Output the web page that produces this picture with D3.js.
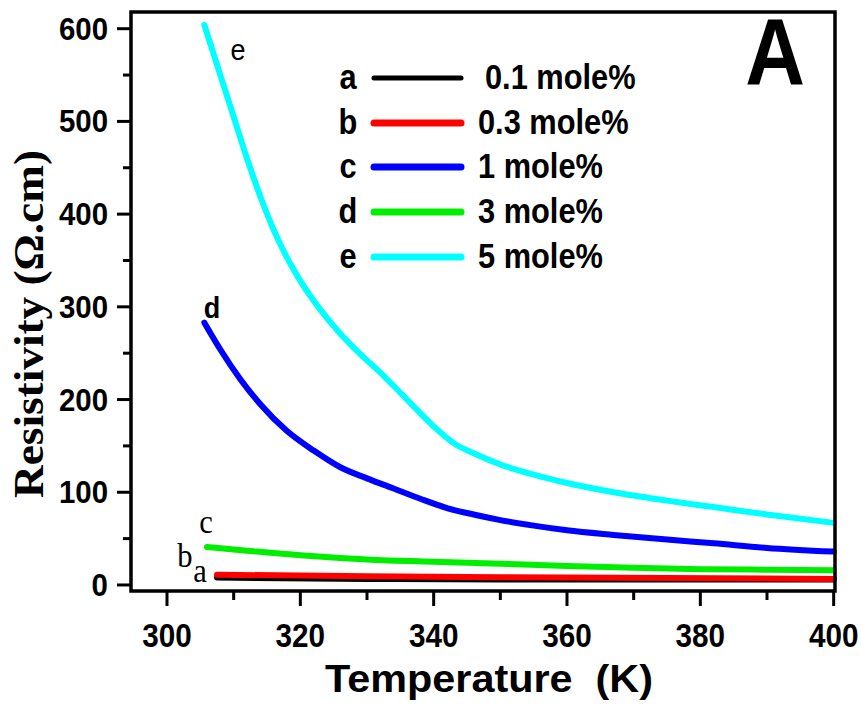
<!DOCTYPE html>
<html><head><meta charset="utf-8">
<script src="https://cdn.jsdelivr.net/npm/d3@7"></script>
<style>body{margin:0;background:#fff}</style>
</head><body>
<svg id="c" width="861" height="711"></svg>
<script>
// ---- data ----
const xTicks = [300, 320, 340, 360, 380, 400];
const yTicks = [0, 100, 200, 300, 400, 500, 600];
const seriesNames = ["a", "b", "c", "d", "e"];
const seriesLabels = ["0.1 mole%", "0.3 mole%", "1 mole%", "3 mole%", "5 mole%"];
const seriesColors = ["#000000", "#ff0000", "#0000ff", "#00ee00", "#00ffff"];
const curveBlack = [[307.5,8],[330,6.5],[350,6],[400,6]];
const curveRed = [[307.5,11],[330,9.5],[360,8],[400,6.5]];
const curveGreen = [[306,41],[312,37],[320,32],[330,27.5],[340,25],[350,23],[360,20.5],[370,18.5],[380,17],[390,16.5],[400,16]];
const curveBlue = [[305.6,283],[308,254],[311,222],[314,195],[318,166],[322,145],[326,127],[330,115],[334,104],[338,93],[342,83],[346,76],[350,70],[355,64],[360,59],[367,54],[375,49],[382,45],[390,40],[400,36]];
const curveCyan = [[305.6,604],[308,550],[310,505],[312,460],[314,419],[316,383],[318,353],[320,328],[323,297],[326,271],[329,249],[332,229],[336,200],[340,171],[343,153],[346,142],[350,130],[355,119],[360,110],[367,100],[375,91],[382,84],[390,76],[400,67]];
const curveLabels = [["e",238,60,"sans"],["d",212,318,"sans"],["c",206,533,"serif"],["b",185,567,"serif"],["a",200,582,"serif"]];

const svg = d3.select("#c");
const L = 131, R = 835, T = 12, B = 591;
const x = d3.scaleLinear().domain([294.6, 400.2]).range([L, R]);
const y = d3.scaleLinear().domain([-6.5, 618]).range([B, T]);
const SANS = "Liberation Sans, Arial, sans-serif";
const SERIF = "Liberation Serif, Times New Roman, serif";

const line = d3.line().x(d => x(d[0])).y(d => y(d[1])).curve(d3.curveMonotoneX);
[[curveGreen,"#00ee00"],[curveBlue,"#0000ff"],[curveCyan,"#00ffff"],[curveBlack,"#000000"],[curveRed,"#ff0000"]]
  .forEach(([d,c]) => {
    svg.append("path").attr("d", line(d)).attr("fill","none").attr("stroke",c)
      .attr("stroke-width",6).attr("stroke-linecap","round").attr("stroke-linejoin","round");
  });

// frame
svg.append("rect").attr("x",L).attr("y",T).attr("width",R-L).attr("height",B-T)
  .attr("fill","none").attr("stroke","#000").attr("stroke-width",3.5);

// x ticks
const gx = svg.append("g").attr("transform",`translate(0,${B})`);
d3.range(300,401,10).forEach(v => {
  const major = v % 20 === 0;
  gx.append("line").attr("x1",x(v)).attr("x2",x(v)).attr("y1",0).attr("y2",major?15:9)
    .attr("stroke","#000").attr("stroke-width",3);
});
xTicks.forEach(v => {
  gx.append("text").attr("text-anchor","middle")
    .attr("font-family",SANS).attr("font-weight","bold").attr("font-size",33)
    .attr("transform",`translate(${x(v)},56) scale(0.9,1)`)
    .text(v);
});
// y ticks
const gy = svg.append("g");
d3.range(0,601,50).forEach(v => {
  const major = v % 100 === 0;
  gy.append("line").attr("x1",L).attr("x2",L-(major?14:8)).attr("y1",y(v)).attr("y2",y(v))
    .attr("stroke","#000").attr("stroke-width",3);
});
yTicks.forEach(v => {
  gy.append("text").attr("text-anchor","end")
    .attr("font-family",SANS).attr("font-weight","bold").attr("font-size",31)
    .attr("transform",`translate(108,${y(v)+11}) scale(0.95,1)`)
    .text(v);
});

// titles
svg.append("text").attr("x",325).attr("y",692)
  .attr("font-family",SANS).attr("font-weight","bold").attr("font-size",38)
  .attr("textLength",328).attr("lengthAdjust","spacingAndGlyphs")
  .style("white-space","pre").text("Temperature  (K)");
svg.append("text").attr("transform","translate(43,324) rotate(-90)").attr("text-anchor","middle")
  .attr("font-family",SERIF).attr("font-weight","bold").attr("font-size",42)
  .attr("textLength",348).attr("lengthAdjust","spacingAndGlyphs")
  .text("Resistivity (Ω.cm)");
svg.append("text").attr("text-anchor","middle")
  .attr("font-family",SANS).attr("font-weight","bold").attr("font-size",94)
  .attr("transform","translate(775,85) scale(0.88,1)")
  .text("A");

// legend
const legY = [78, 123, 167, 212, 257];
seriesNames.forEach((n,i) => {
  svg.append("text").attr("text-anchor","middle")
    .attr("font-family",SANS).attr("font-weight","bold").attr("font-size",35)
    .attr("transform",`translate(348,${legY[i]+11}) scale(0.88,1)`).text(n);
  svg.append("line").attr("x1",374).attr("x2",461).attr("y1",legY[i]).attr("y2",legY[i])
    .attr("stroke",seriesColors[i]).attr("stroke-width",i===0?5:7).attr("stroke-linecap","round");
  svg.append("text")
    .attr("font-family",SANS).attr("font-weight","bold").attr("font-size",35)
    .attr("transform",`translate(${i===0?485:478},${legY[i]+11}) scale(0.88,1)`).text(seriesLabels[i]);
});

// curve labels
curveLabels.forEach(([t,px,py,f]) => {
  svg.append("text").attr("text-anchor","middle")
    .attr("font-family", f==="sans" ? SANS : SERIF)
    .attr("font-weight", t==="d" ? "bold" : "normal")
    .attr("font-size", f==="sans" ? 30 : 34)
    .attr("transform",`translate(${px},${py}) scale(0.9,1)`).text(t);
});
</script>
</body></html>
